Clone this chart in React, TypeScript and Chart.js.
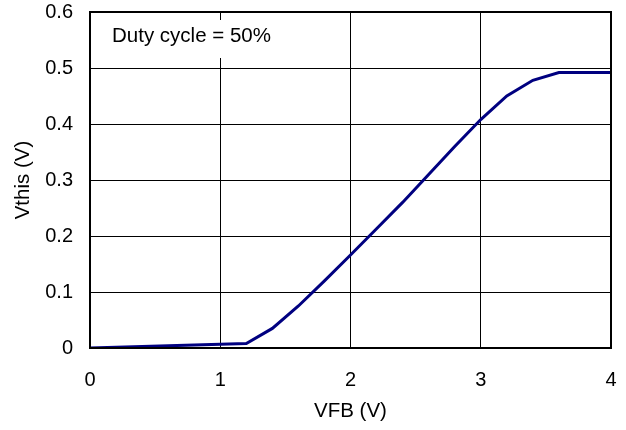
import React, { useEffect, useRef } from "react";
import { Chart, registerables } from "chart.js";

Chart.register(...registerables);

const vfb = [0, 1.2, 1.4, 1.6, 1.8, 2.0, 2.2, 2.4, 2.6, 2.8, 3.0, 3.2, 3.4, 3.6, 3.8, 4.0];
const vthis = [0, 0.008, 0.035, 0.075, 0.12, 0.166, 0.213, 0.26, 0.31, 0.36, 0.408, 0.45, 0.478, 0.492, 0.492, 0.492];
const xTitle = "VFB (V)";
const yTitle = "Vthis (V)";
const note = "Duty cycle = 50%";

const FONT = "Liberation Sans, Arial, sans-serif";

export default function App() {
  const ref = useRef<HTMLCanvasElement | null>(null);
  useEffect(() => {
    document.body.style.margin = "0";
    const canvas = ref.current;
    if (!canvas) return;
    const overlay = {
      id: "overlay",
      afterDatasetsDraw(chart: any) {
        const { ctx, chartArea } = chart;
        ctx.save();
        // note box
        ctx.fillStyle = "#fff";
        ctx.fillRect(chartArea.left + 10, 20, 185, 38);
        ctx.fillStyle = "#000";
        ctx.font = `20.5px ${FONT}`;
        ctx.textBaseline = "middle";
        ctx.textAlign = "left";
        ctx.fillText(note, chartArea.left + 22, 36);
        // frame
        ctx.strokeStyle = "#000";
        ctx.lineWidth = 2;
        ctx.strokeRect(chartArea.left, chartArea.top, chartArea.right - chartArea.left, chartArea.bottom - chartArea.top);
        // titles
        ctx.textAlign = "center";
        ctx.fillText(xTitle, (chartArea.left + chartArea.right) / 2, 411);
        ctx.translate(23, (chartArea.top + chartArea.bottom) / 2);
        ctx.rotate(-Math.PI / 2);
        ctx.fillText(yTitle, 0, 0);
        ctx.restore();
      },
    };
    const chart = new Chart(canvas, {
      type: "line",
      data: {
        datasets: [
          {
            data: vfb.map((x, i) => ({ x, y: vthis[i] })),
            borderColor: "#000080",
            borderWidth: 3,
            pointRadius: 0,
            tension: 0,
            fill: false,
          },
        ],
      },
      options: {
        animation: false,
        responsive: false,
        devicePixelRatio: 1,
        layout: { padding: { top: 12, right: 15, left: 0, bottom: 0 } },
        plugins: { legend: { display: false }, tooltip: { enabled: false } },
        scales: {
          x: {
            type: "linear",
            min: 0,
            max: 4,
            ticks: { stepSize: 1, color: "#000", font: { family: FONT, size: 20 }, padding: 20 },
            grid: { color: "#000", lineWidth: 1, drawTicks: false },
            border: { color: "#000", width: 2 },
            afterFit(scale: any) {
              scale.height = 82;
              scale.paddingLeft = 0;
              scale.paddingRight = 0;
              scale.paddingTop = 0;
              scale.paddingBottom = 0;
            },
          },
          y: {
            min: 0,
            max: 0.6,
            ticks: {
              stepSize: 0.1,
              color: "#000",
              font: { family: FONT, size: 20 },
              padding: 17,
              callback: (v: any) => String(Math.round(Number(v) * 10) / 10),
            },
            grid: { color: "#000", lineWidth: 1, drawTicks: false },
            border: { color: "#000", width: 2 },
            afterFit(scale: any) {
              scale.width = 90;
              scale.paddingLeft = 0;
              scale.paddingRight = 0;
              scale.paddingTop = 0;
              scale.paddingBottom = 0;
            },
          },
        },
      },
      plugins: [overlay],
    });
    return () => chart.destroy();
  }, []);
  return (
    <div style={{ width: 626, height: 430, background: "#fff" }}>
      <canvas ref={ref} width={626} height={430} style={{ display: "block" }} />
    </div>
  );
}
